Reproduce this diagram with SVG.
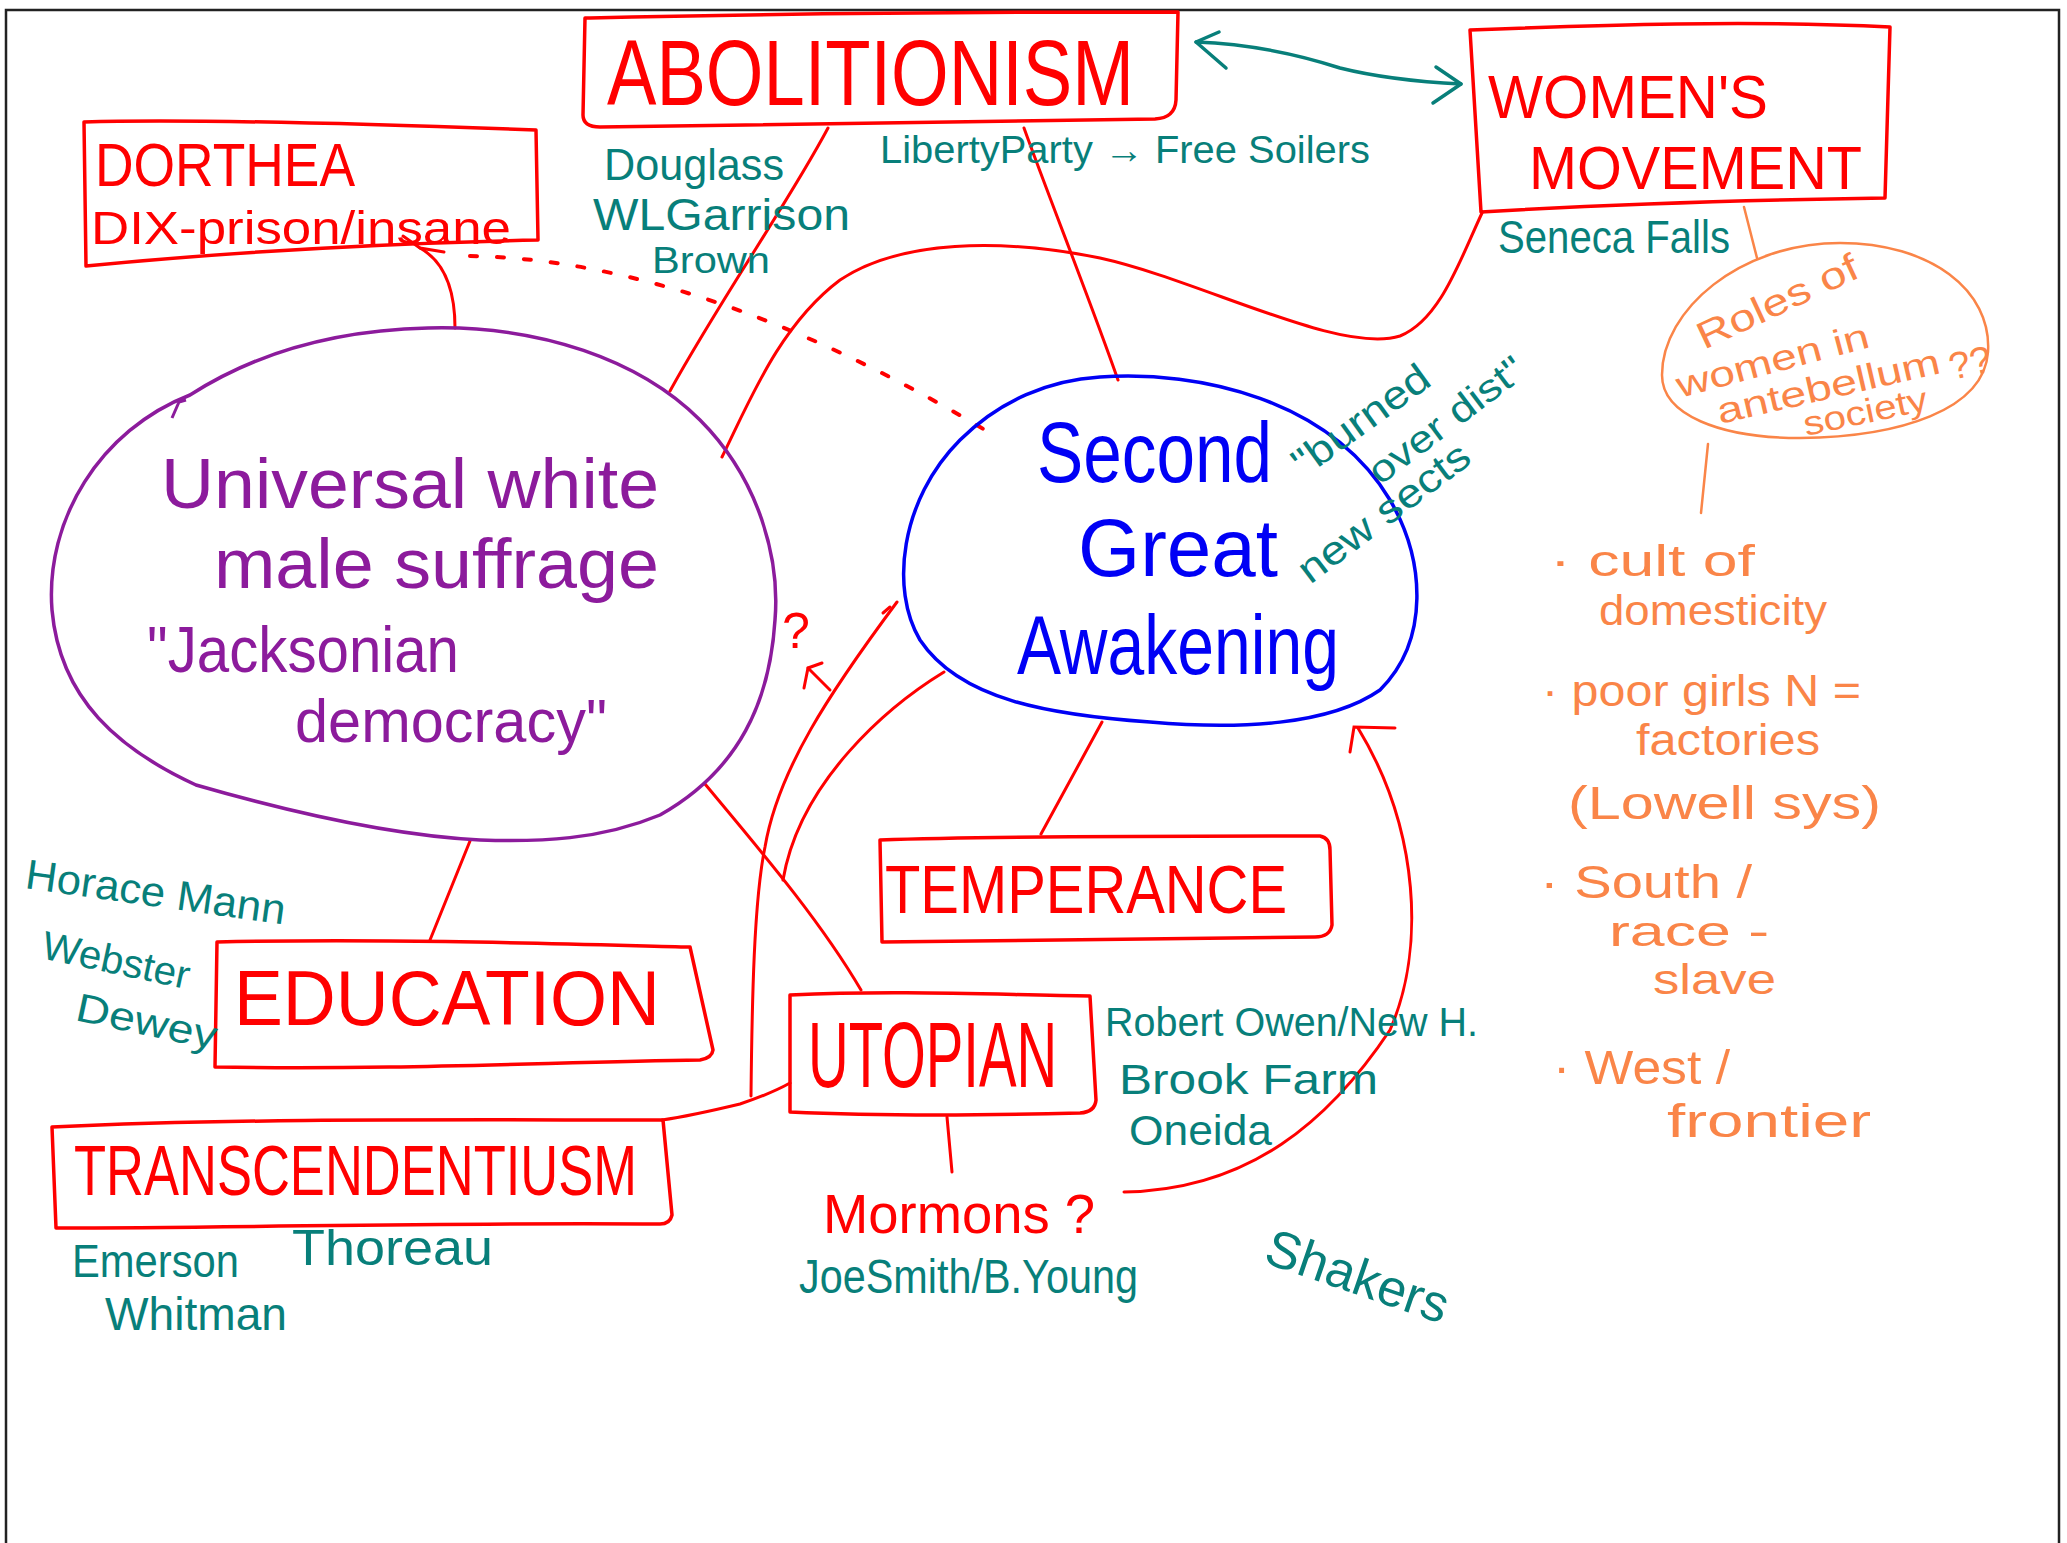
<svg xmlns="http://www.w3.org/2000/svg" width="2067" height="1543" viewBox="0 0 2067 1543">
<defs>
<style>
text{font-family:"Liberation Sans Narrow","Liberation Sans",Arial,sans-serif;}
.r{fill:#ff0000;}
.t{fill:#087f7a;}
.p{fill:#8c1b9c;}
.b{fill:#0000f5;}
.o{fill:#fa8548;}
.box{fill:none;stroke:#ff0000;stroke-width:3.5;stroke-linejoin:round;}
.ln{fill:none;stroke:#ff0000;stroke-width:3;stroke-linecap:round;}
.tl{fill:none;stroke:#087f7a;stroke-width:3.5;stroke-linecap:round;stroke-linejoin:round;}
.ol{fill:none;stroke:#fa8548;stroke-width:2.5;stroke-linecap:round;}
</style>
</defs>
<rect x="0" y="0" width="2067" height="1543" fill="#ffffff"/>
<rect x="6" y="10" width="2053" height="1600" fill="none" stroke="#222" stroke-width="2.5"/>

<g id="connectors">
<path class="ln" d="M 828 128 C 790 200, 720 300, 670 391"/>
<path class="ln" d="M 1024 128 C 1050 200, 1090 300, 1118 380"/>
<path class="tl" d="M 1196 42 C 1250 44, 1300 55, 1340 68 C 1380 78, 1420 82, 1461 84"/>
<path class="tl" d="M 1219 32 L 1196 42 L 1226 68"/>
<path class="tl" d="M 1436 67 L 1461 84 L 1433 103"/>
<path class="ln" d="M 1482 213 C 1460 260, 1440 320, 1400 336 C 1340 355, 1200 280, 1100 258 C 1000 238, 900 240, 840 280 C 780 325, 750 400, 722 457"/>
<path class="ln" d="M 455 328 C 455 290, 445 262, 420 248"/>
<path class="ln" d="M 403 236 L 420 248 L 444 252"/>
<path d="M 470 256 Q 700 260 985 430" fill="none" stroke="#ff0000" stroke-width="4" stroke-dasharray="7 20" stroke-linecap="round"/>
<path class="ol" d="M 1744 207 L 1757 258"/>
<path class="ol" d="M 1708 444 L 1701 513"/>
<path class="ln" d="M 1102 722 L 1041 834"/>
<path class="ln" d="M 470 841 L 430 940"/>
<path class="ln" d="M 705 784 C 760 850, 820 920, 861 990"/>
<path class="ln" d="M 790 1083 C 772 1093, 758 1098, 740 1104 C 715 1110, 690 1116, 662 1120"/>
<path class="ln" d="M 751 1096 C 752 1000, 754 900, 765 847 C 778 770, 830 692, 897 602"/>
<path class="ln" d="M 883 613 L 890 607"/>
<path class="ln" d="M 944 672 C 890 705, 800 780, 783 880"/>
<path class="ln" d="M 830 690 L 808 668"/>
<path class="ln" d="M 804 688 L 808 668 L 822 663"/>
<path class="ln" d="M 947 1117 L 952 1172"/>
<path class="ln" d="M 1124 1192 C 1250 1190, 1330 1120, 1390 1030 C 1425 950, 1420 830, 1358 728"/>
<path class="ln" d="M 1350 752 L 1354 727 L 1395 728"/>
</g>

<g id="abolitionism">
<path class="box" d="M 590 18 C 800 13, 1000 12, 1178 12 L 1176 100 Q 1175 118 1155 119 L 600 127 Q 583 127 583 115 L 585 18 Z"/>
<text class="r" x="607" y="105" font-size="92" textLength="527" lengthAdjust="spacingAndGlyphs">ABOLITIONISM</text>
</g>

<g id="abolitionism-notes">
<text class="t" x="604" y="180" font-size="44" textLength="180" lengthAdjust="spacingAndGlyphs">Douglass</text>
<text class="t" x="593" y="230" font-size="44" textLength="257" lengthAdjust="spacingAndGlyphs">WLGarrison</text>
<text class="t" x="652" y="273" font-size="36" textLength="118" lengthAdjust="spacingAndGlyphs">Brown</text>
<text class="t" x="880" y="163" font-size="38" textLength="490" lengthAdjust="spacingAndGlyphs">LibertyParty → Free Soilers</text>
</g>

<g id="womens-movement">
<path class="box" d="M 1470 30 C 1600 25, 1750 20, 1890 27 L 1885 198 C 1750 200, 1600 205, 1481 212 Z"/>
<text class="r" x="1488" y="118" font-size="62" textLength="280" lengthAdjust="spacingAndGlyphs">WOMEN'S</text>
<text class="r" x="1529" y="189" font-size="62" textLength="333" lengthAdjust="spacingAndGlyphs">MOVEMENT</text>
<text class="t" x="1498" y="253" font-size="46" textLength="232" lengthAdjust="spacingAndGlyphs">Seneca Falls</text>
</g>

<g id="dorthea-dix">
<path class="box" d="M 84 122 C 200 118, 400 125, 536 130 L 538 240 C 400 243, 250 250, 86 266 Z"/>
<text class="r" x="95" y="186" font-size="62" textLength="260" lengthAdjust="spacingAndGlyphs">DORTHEA</text>
<text class="r" x="91" y="244" font-size="46" textLength="420" lengthAdjust="spacingAndGlyphs">DIX-prison/insane</text>
</g>

<g id="universal-suffrage">
<path d="M 428 328 C 540 325, 640 360, 700 420 C 760 480, 780 560, 775 620 C 770 700, 740 770, 660 815 C 600 840, 540 842, 480 840 C 400 836, 300 815, 196 785 C 120 750, 60 700, 52 610 C 45 520, 100 430, 190 395 C 260 350, 340 330, 428 328 Z" fill="none" stroke="#8c1b9c" stroke-width="3.5"/>
<path d="M 172 418 L 179 402 L 186 400" fill="none" stroke="#8c1b9c" stroke-width="3"/>
<text class="p" x="161" y="508" font-size="70" textLength="498" lengthAdjust="spacingAndGlyphs">Universal white</text>
<text class="p" x="214" y="588" font-size="70" textLength="445" lengthAdjust="spacingAndGlyphs">male suffrage</text>
<text class="p" x="147" y="672" font-size="64" textLength="312" lengthAdjust="spacingAndGlyphs">"Jacksonian</text>
<text class="p" x="295" y="742" font-size="62" textLength="312" lengthAdjust="spacingAndGlyphs">democracy"</text>
<text class="r" x="782" y="648" font-size="50">?</text>
</g>

<g id="second-great-awakening">
<path d="M 1100 377 C 1200 370, 1330 400, 1390 500 C 1425 560, 1430 640, 1380 690 C 1330 725, 1240 730, 1150 722 C 1050 715, 960 700, 920 640 C 890 590, 900 500, 960 440 C 1000 400, 1050 380, 1100 377 Z" fill="none" stroke="#0000f5" stroke-width="3.5"/>
<text class="b" x="1037" y="482" font-size="86" textLength="235" lengthAdjust="spacingAndGlyphs">Second</text>
<text class="b" x="1078" y="576" font-size="82" textLength="200" lengthAdjust="spacingAndGlyphs">Great</text>
<text class="b" x="1017" y="674" font-size="84" textLength="322" lengthAdjust="spacingAndGlyphs">Awakening</text>
<text class="t" x="1304" y="478" font-size="40" textLength="160" lengthAdjust="spacingAndGlyphs" transform="rotate(-36 1304 478)">"burned</text>
<text class="t" x="1380" y="486" font-size="38" textLength="185" lengthAdjust="spacingAndGlyphs" transform="rotate(-37 1380 486)">over dist"</text>
<text class="t" x="1310" y="585" font-size="40" textLength="205" lengthAdjust="spacingAndGlyphs" transform="rotate(-37 1310 585)">new sects</text>
</g>

<g id="roles-of-women">
<path d="M 1840 243 C 1930 243, 1992 290, 1988 352 C 1984 410, 1900 437, 1800 438 C 1720 438, 1662 415, 1662 375 C 1662 310, 1740 243, 1840 243 Z" fill="none" stroke="#fa8548" stroke-width="2.5"/>
<text class="o" x="1704" y="350" font-size="38" textLength="174" lengthAdjust="spacingAndGlyphs" transform="rotate(-25 1704 350)">Roles of</text>
<text class="o" x="1680" y="398" font-size="36" textLength="198" lengthAdjust="spacingAndGlyphs" transform="rotate(-15 1680 398)">women in</text>
<text class="o" x="1720" y="424" font-size="36" textLength="228" lengthAdjust="spacingAndGlyphs" transform="rotate(-13 1720 424)">antebellum</text>
<text class="o" x="1952" y="380" font-size="38" transform="rotate(-12 1952 380)">??</text>
<text class="o" x="1806" y="436" font-size="34" textLength="126" lengthAdjust="spacingAndGlyphs" transform="rotate(-12 1806 436)">society</text>
</g>

<g id="women-list">
<text class="o" x="1550" y="576" font-size="44" textLength="205" lengthAdjust="spacingAndGlyphs">· cult of</text>
<text class="o" x="1599" y="625" font-size="42" textLength="228" lengthAdjust="spacingAndGlyphs">domesticity</text>
<text class="o" x="1542" y="706" font-size="44" textLength="319" lengthAdjust="spacingAndGlyphs">· poor girls N =</text>
<text class="o" x="1636" y="755" font-size="44" textLength="184" lengthAdjust="spacingAndGlyphs">factories</text>
<text class="o" x="1568" y="819" font-size="46" textLength="313" lengthAdjust="spacingAndGlyphs">(Lowell sys)</text>
<text class="o" x="1540" y="898" font-size="46" textLength="212" lengthAdjust="spacingAndGlyphs">· South /</text>
<text class="o" x="1609" y="946" font-size="42" textLength="160" lengthAdjust="spacingAndGlyphs">race -</text>
<text class="o" x="1653" y="994" font-size="42" textLength="123" lengthAdjust="spacingAndGlyphs">slave</text>
<text class="o" x="1553" y="1084" font-size="48" textLength="177" lengthAdjust="spacingAndGlyphs">· West /</text>
<text class="o" x="1667" y="1137" font-size="46" textLength="204" lengthAdjust="spacingAndGlyphs">frontier</text>
</g>

<g id="temperance">
<path class="box" d="M 880 840 C 1000 836, 1200 836, 1320 836 Q 1330 838 1330 850 L 1332 925 Q 1330 937 1315 937 L 882 942 Z"/>
<text class="r" x="885" y="913" font-size="68" textLength="402" lengthAdjust="spacingAndGlyphs">TEMPERANCE</text>
</g>

<g id="education">
<path class="box" d="M 217 942 C 400 938, 600 945, 690 947 L 713 1050 Q 712 1058 700 1060 C 550 1062, 400 1070, 215 1067 Z"/>
<text class="r" x="234" y="1025" font-size="78" textLength="426" lengthAdjust="spacingAndGlyphs">EDUCATION</text>
<text class="t" x="24" y="888" font-size="42" textLength="262" lengthAdjust="spacingAndGlyphs" transform="rotate(8 24 888)">Horace Mann</text>
<text class="t" x="40" y="958" font-size="40" textLength="150" lengthAdjust="spacingAndGlyphs" transform="rotate(12 40 958)">Webster</text>
<text class="t" x="74" y="1020" font-size="40" textLength="143" lengthAdjust="spacingAndGlyphs" transform="rotate(12 74 1020)">Dewey</text>
</g>

<g id="utopian">
<path class="box" d="M 790 995 C 900 990, 1000 995, 1090 996 L 1096 1100 Q 1095 1112 1080 1113 C 1000 1115, 900 1117, 790 1112 Z"/>
<text class="r" x="0" y="0" font-size="92" textLength="356" lengthAdjust="spacingAndGlyphs" transform="translate(808 1087) scale(0.7 1)">UTOPIAN</text>
<text class="t" x="1105" y="1036" font-size="40" textLength="373" lengthAdjust="spacingAndGlyphs">Robert Owen/New H.</text>
<text class="t" x="1119" y="1094" font-size="42" textLength="259" lengthAdjust="spacingAndGlyphs">Brook Farm</text>
<text class="t" x="1129" y="1145" font-size="42" textLength="143" lengthAdjust="spacingAndGlyphs">Oneida</text>
</g>

<g id="transcendentalism">
<path class="box" d="M 52 1127 C 250 1118, 450 1120, 663 1120 L 672 1215 Q 670 1224 660 1224 C 450 1222, 250 1228, 56 1228 Z"/>
<text class="r" x="74" y="1195" font-size="70" textLength="563" lengthAdjust="spacingAndGlyphs">TRANSCENDENTIUSM</text>
<text class="t" x="72" y="1277" font-size="46" textLength="167" lengthAdjust="spacingAndGlyphs">Emerson</text>
<text class="t" x="292" y="1265" font-size="50" textLength="201" lengthAdjust="spacingAndGlyphs">Thoreau</text>
<text class="t" x="105" y="1330" font-size="46" textLength="182" lengthAdjust="spacingAndGlyphs">Whitman</text>
</g>

<g id="mormons">
<text class="r" x="823" y="1233" font-size="56" textLength="272" lengthAdjust="spacingAndGlyphs">Mormons ?</text>
<text class="t" x="799" y="1293" font-size="48" textLength="339" lengthAdjust="spacingAndGlyphs">JoeSmith/B.Young</text>
</g>

<g id="shakers">
<text class="t" x="1262" y="1262" font-size="52" textLength="190" lengthAdjust="spacingAndGlyphs" transform="rotate(19 1262 1262)">Shakers</text>
</g>
</svg>
